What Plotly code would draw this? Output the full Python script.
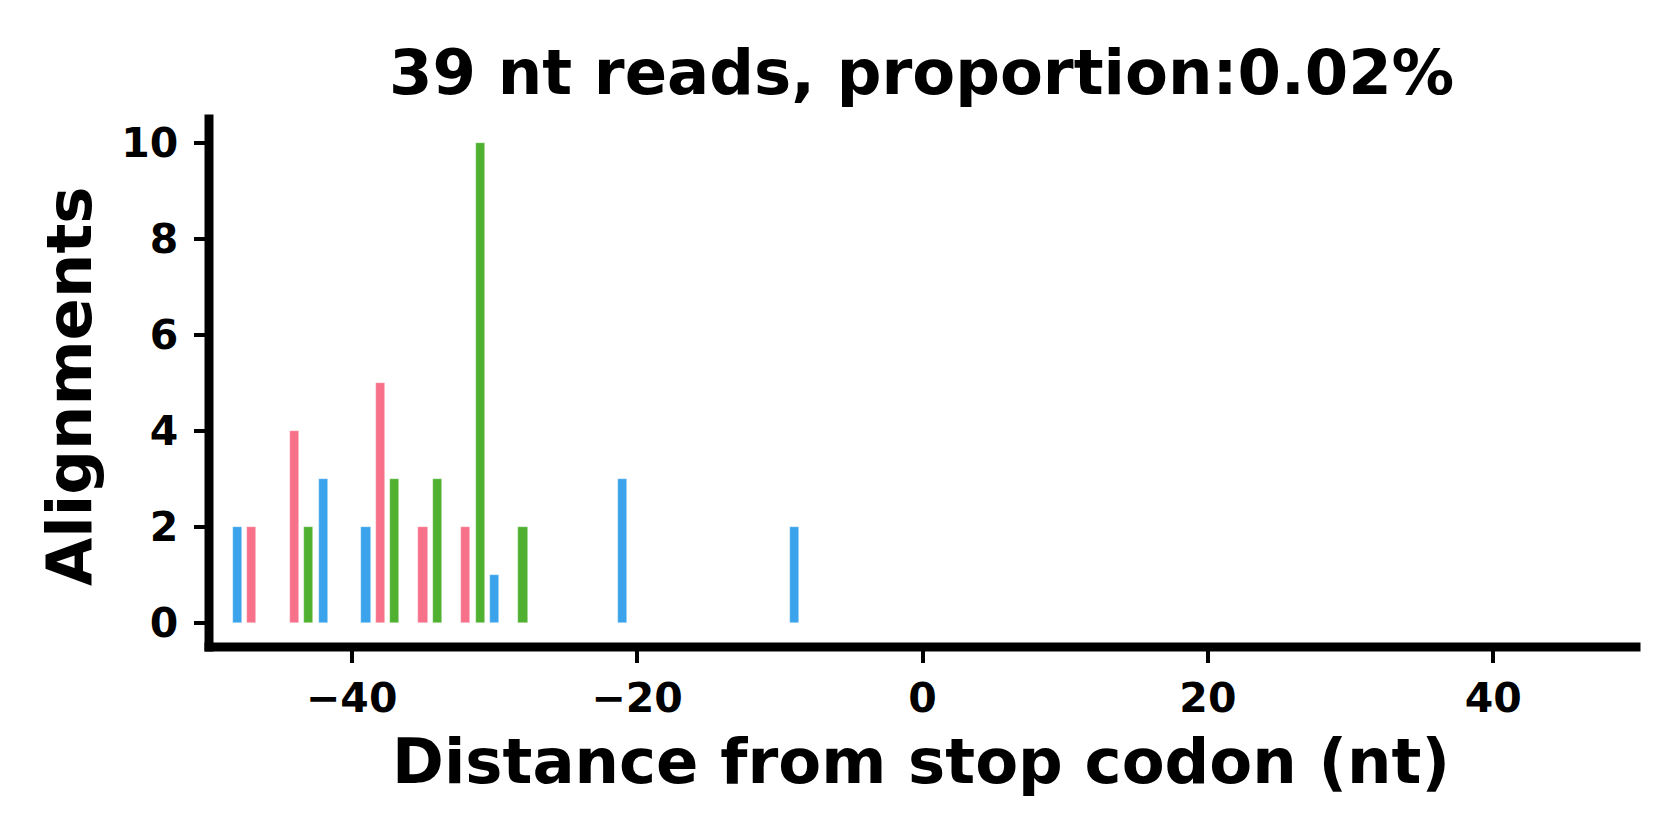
import plotly.graph_objects as go

# Data
positions = [-48, -47, -44, -43, -42, -39, -38, -37, -35, -34, -32, -31, -30, -28, -21, -9]
counts    = [2,   2,   4,   2,   3,   2,   5,   3,   2,   3,   2,   10,  1,   2,   3,   2]
frame_colors = {1: "#F7718A", 2: "#50B131", 0: "#3BA3EC"}
x_ticks = [-40, -20, 0, 20, 40]
y_ticks = [0, 2, 4, 6, 8, 10]
title_text = "39 nt reads, proportion:0.02%"
x_label = "Distance from stop codon (nt)"
y_label = "Alignments"

# page body has an 8px margin, so the figure is drawn 8px in from the window edge
OFF = 8
W, H = 1680 - OFF, 840 - OFF
ML, MR, MT, MB = 201, 44, 111, 193
pw, ph = W - ML - MR, H - MT - MB

def px(xscreen):
    return (xscreen - OFF - ML) / pw

def py(yscreen):
    return (H - MB - (yscreen - OFF)) / ph

colors = [frame_colors[p % 3] for p in positions]

fig = go.Figure()
fig.add_trace(go.Bar(
    x=positions, y=counts, width=0.64,
    marker=dict(color=colors, line=dict(color="rgba(255,255,255,0.6)", width=0.6)),
    showlegend=False,
))

bold = dict(family="DejaVu Sans", color="black", weight="bold")
cap_x = 4.5 / pw
cap_y = 4.5 / ph

fig.update_layout(
    width=W, height=H,
    margin=dict(l=ML, r=MR, t=MT, b=MB, pad=0),
    plot_bgcolor="white", paper_bgcolor="white",
    bargap=0,
    xaxis=dict(
        range=[-50, 50], tickvals=x_ticks, showgrid=False, zeroline=False,
        showline=False, ticks="outside", ticklen=14.5, tickwidth=4, tickcolor="black",
        tickfont=dict(size=41, **bold), ticklabelstandoff=0,
    ),
    yaxis=dict(
        range=[-0.5, 10.5], tickvals=y_ticks, showgrid=False, zeroline=False,
        showline=False, ticks="outside", ticklen=14.5, tickwidth=4, tickcolor="black",
        tickfont=dict(size=41, **bold), ticklabelstandoff=7,
    ),
    shapes=[
        dict(type="line", xref="paper", yref="paper", x0=0, x1=0, y0=-cap_y, y1=1 + cap_y,
             line=dict(color="black", width=9)),
        dict(type="line", xref="paper", yref="paper", x0=-cap_x, x1=1 + cap_x, y0=0, y1=0,
             line=dict(color="black", width=9)),
    ],
    annotations=[
        dict(text=title_text, xref="paper", yref="paper", x=px(921), y=py(73),
             xanchor="center", yanchor="middle", showarrow=False,
             font=dict(size=62.5, **bold)),
        dict(text=x_label, xref="paper", yref="paper", x=px(921), y=py(761),
             xanchor="center", yanchor="middle", showarrow=False,
             font=dict(size=62.5, **bold)),
        dict(text=y_label, xref="paper", yref="paper", x=px(70), y=py(386),
             xanchor="center", yanchor="middle", showarrow=False, textangle=-90,
             font=dict(size=62.5, **bold)),
    ],
)

fig.write_html("out.html")
